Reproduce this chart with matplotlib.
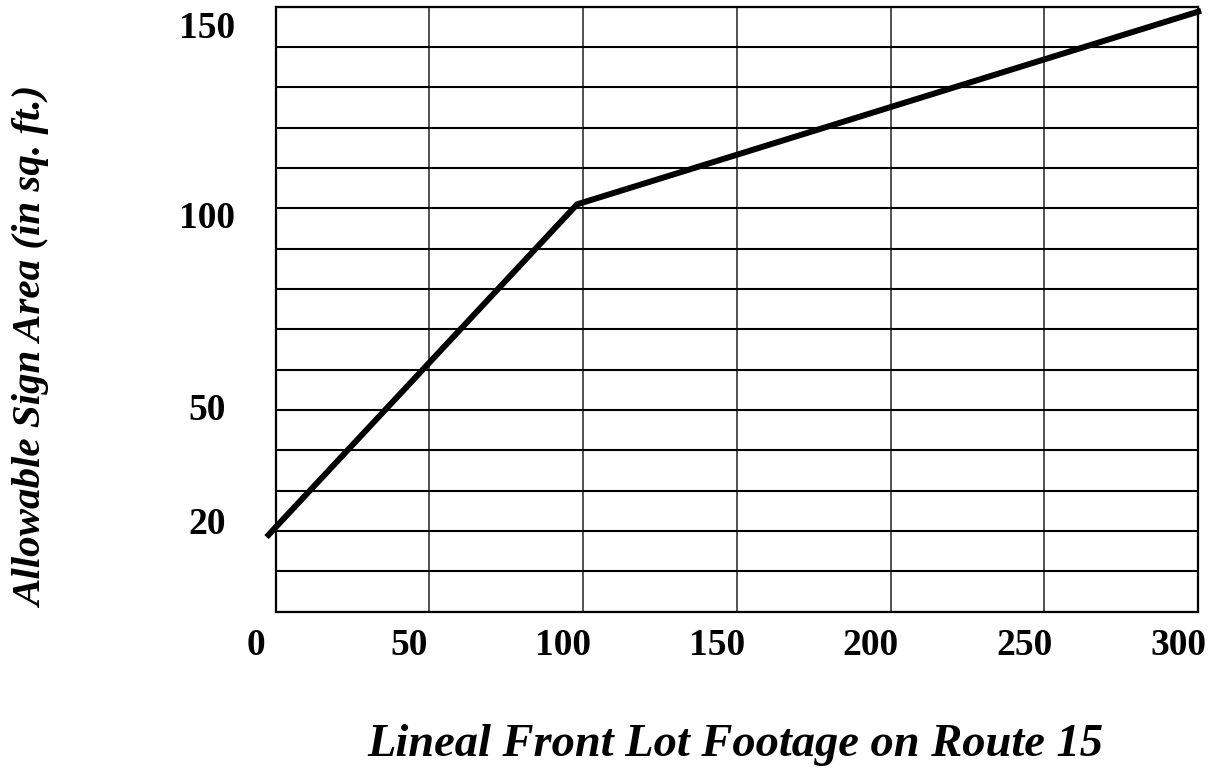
import matplotlib
matplotlib.use("Agg")
import matplotlib.pyplot as plt
from matplotlib.transforms import ScaledTranslation

frontage = [-3, 98, 301]
sign_area = [18.5, 101, 149]
x_labels = [0, 50, 100, 150, 200, 250, 300]
y_labels = [20, 50, 100, 150]
# printed labels sit a little off their grid lines (pixels, down is +)
y_nudge = [-7, 0, 10, 22]

serif = ['Liberation Serif', 'DejaVu Serif']

fig = plt.figure(figsize=(12.18, 7.73), dpi=100)
ax = fig.add_axes([0.2264, 0.2087, 0.7572, 0.7826])
ax.set_xlim(0, 300)
ax.set_ylim(0, 150)
ax.set_xticks(range(0, 301, 50))
ax.set_yticks(range(0, 151, 10))
ax.xaxis.grid(True, color='#222222', lw=1.1)
ax.yaxis.grid(True, color='black', lw=1.5)
ax.tick_params(length=0, labelbottom=False, labelleft=False)
for s in ax.spines.values():
    s.set_linewidth(1.6)

ax.plot(frontage, sign_area, color='black', lw=4.3, clip_on=False,
        solid_capstyle='butt', zorder=5)

px = 1 / fig.dpi
for v in x_labels:
    tr = ax.get_xaxis_transform() + ScaledTranslation(-20 * px, -34 * px, fig.dpi_scale_trans)
    ax.text(v, 0, str(v), transform=tr, ha='center', va='center',
            fontsize=27, fontweight='bold', family=serif)

for v, n in zip(y_labels, y_nudge):
    tr = ax.get_yaxis_transform() + ScaledTranslation(-69 * px, -n * px, fig.dpi_scale_trans)
    ax.text(0, v, str(v), transform=tr, ha='center', va='center',
            fontsize=27, fontweight='bold', family=serif)

fig.text(33 / 1218, 1 - 347 / 773, 'Allowable Sign Area (in sq. ft.)', rotation=90,
         ha='center', va='center', fontsize=29.5, fontweight='bold', style='italic',
         family=serif)
fig.text(735 / 1218, 1 - 745 / 773, 'Lineal Front Lot Footage on Route 15',
         ha='center', va='center', fontsize=33.5, fontweight='bold', style='italic',
         family=serif)

fig.savefig('out.png', dpi=100)
